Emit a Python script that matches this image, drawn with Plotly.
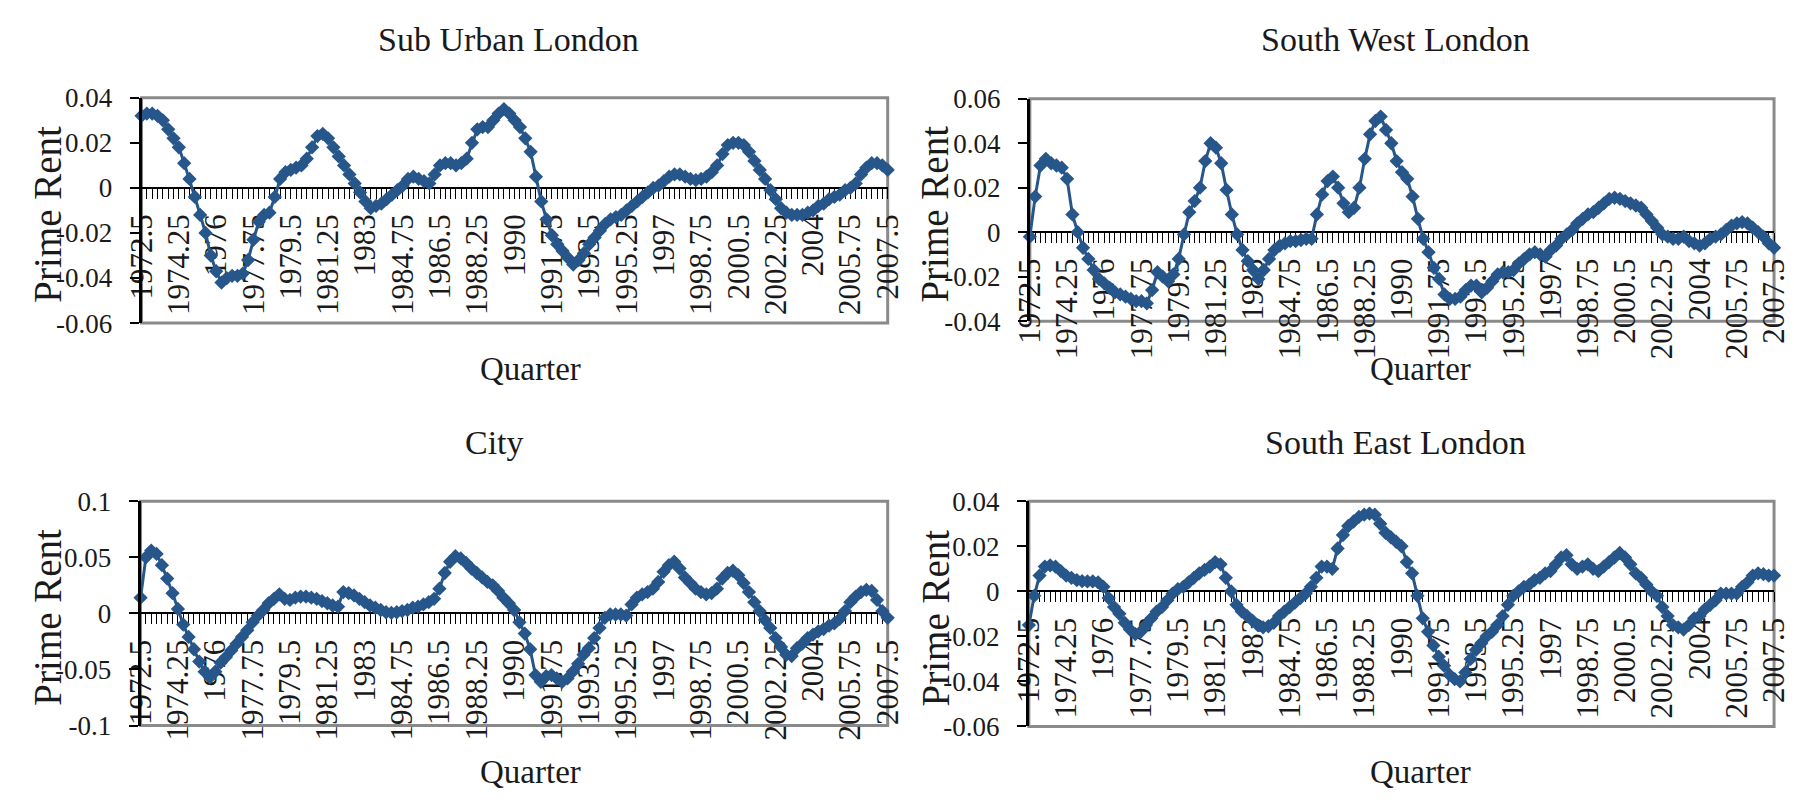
import plotly.graph_objects as go

W, H = 1794, 806

quarters = [1972.5 + 0.25 * k for k in range(141)]
tick_labels = ["1972.5", "1974.25", "1976", "1977.75", "1979.5", "1981.25", "1983",
               "1984.75", "1986.5", "1988.25", "1990", "1991.75", "1993.5", "1995.25",
               "1997", "1998.75", "2000.5", "2002.25", "2004", "2005.75", "2007.5"]

sub_urban = [
    0.032, 0.033, 0.033, 0.032, 0.030, 0.026, 0.022, 0.018, 0.011, 0.004,
    -0.004, -0.012, -0.020, -0.030, -0.037, -0.042, -0.040, -0.039, -0.039, -0.038,
    -0.032, -0.023, -0.015, -0.012, -0.011, -0.004, 0.004, 0.007, 0.008, 0.009,
    0.010, 0.013, 0.018, 0.023, 0.024, 0.022, 0.018, 0.014, 0.010, 0.006,
    0.002, -0.002, -0.006, -0.009, -0.008, -0.007, -0.005, -0.003, -0.001, 0.001,
    0.004, 0.005, 0.004, 0.003, 0.002, 0.006, 0.010, 0.011, 0.011, 0.010,
    0.011, 0.013, 0.020, 0.026, 0.027, 0.027, 0.030, 0.033, 0.035, 0.033,
    0.030, 0.027, 0.022, 0.016, 0.005, -0.006, -0.014, -0.021, -0.025, -0.028,
    -0.031, -0.034, -0.032, -0.029, -0.025, -0.022, -0.019, -0.016, -0.014, -0.013,
    -0.012, -0.010, -0.008, -0.006, -0.004, -0.002, 0.000, 0.001, 0.003, 0.005,
    0.006, 0.006, 0.005, 0.004, 0.0035, 0.004, 0.005, 0.007, 0.010, 0.015,
    0.019, 0.020, 0.020, 0.019, 0.016, 0.012, 0.008, 0.004, -0.001, -0.005,
    -0.009, -0.011, -0.012, -0.012, -0.012, -0.011, -0.010, -0.008, -0.007, -0.005,
    -0.004, -0.003, -0.001, 0.000, 0.002, 0.006, 0.009, 0.011, 0.011, 0.010,
    0.008]

south_west = [
    -0.002, 0.016, 0.030, 0.033, 0.031, 0.030, 0.029, 0.024, 0.008, 0.000,
    -0.007, -0.012, -0.017, -0.021, -0.023, -0.025, -0.027, -0.028, -0.029, -0.030,
    -0.031, -0.031, -0.032, -0.026, -0.018, -0.020, -0.022, -0.019, -0.012, -0.001,
    0.009, 0.014, 0.020, 0.032, 0.040, 0.038, 0.031, 0.019, 0.008, -0.001,
    -0.008, -0.013, -0.017, -0.021, -0.017, -0.012, -0.008, -0.006, -0.005, -0.004,
    -0.004, -0.0035, -0.003, -0.003, 0.008, 0.017, 0.023, 0.025, 0.020, 0.013,
    0.009, 0.011, 0.020, 0.033, 0.044, 0.050, 0.052, 0.046, 0.040, 0.032,
    0.027, 0.024, 0.016, 0.006, -0.003, -0.009, -0.016, -0.021, -0.028, -0.030,
    -0.030, -0.029, -0.026, -0.024, -0.024, -0.027, -0.025, -0.022, -0.019, -0.018,
    -0.018, -0.017, -0.014, -0.012, -0.010, -0.009, -0.010, -0.011, -0.008, -0.006,
    -0.003, -0.001, 0.001, 0.004, 0.006, 0.008, 0.009, 0.011, 0.013, 0.015,
    0.0155, 0.015, 0.014, 0.013, 0.012, 0.011, 0.008, 0.005, 0.002, -0.001,
    -0.002, -0.003, -0.003, -0.002, -0.004, -0.005, -0.006, -0.005, -0.003, -0.002,
    -0.001, 0.001, 0.003, 0.004, 0.0045, 0.004, 0.002, 0.000, -0.002, -0.005,
    -0.007]

city = [
    0.014, 0.050, 0.056, 0.053, 0.043, 0.031, 0.018, 0.004, -0.010, -0.021,
    -0.032, -0.043, -0.052, -0.057, -0.052, -0.044, -0.039, -0.033, -0.027, -0.021,
    -0.015, -0.008, -0.002, 0.003, 0.009, 0.013, 0.017, 0.013, 0.012, 0.014,
    0.015, 0.015, 0.014, 0.013, 0.011, 0.009, 0.007, 0.006, 0.019, 0.018,
    0.016, 0.013, 0.010, 0.007, 0.005, 0.003, 0.001, 0.0005, 0.001, 0.002,
    0.003, 0.005, 0.006, 0.008, 0.010, 0.013, 0.022, 0.036, 0.046, 0.051,
    0.049, 0.045, 0.040, 0.036, 0.032, 0.028, 0.025, 0.020, 0.014, 0.009,
    0.003, -0.008, -0.018, -0.032, -0.055, -0.061, -0.056, -0.055, -0.058, -0.061,
    -0.058, -0.052, -0.045, -0.037, -0.031, -0.022, -0.013, -0.004, -0.001, -0.001,
    -0.001, -0.002, 0.008, 0.014, 0.017, 0.019, 0.022, 0.028, 0.037, 0.043,
    0.046, 0.040, 0.032, 0.027, 0.022, 0.019, 0.017, 0.018, 0.022, 0.031,
    0.036, 0.038, 0.034, 0.027, 0.019, 0.010, 0.002, -0.006, -0.013, -0.022,
    -0.030, -0.037, -0.038, -0.031, -0.027, -0.022, -0.019, -0.016, -0.014, -0.011,
    -0.009, -0.005, 0.002, 0.010, 0.015, 0.019, 0.021, 0.020, 0.012, 0.002,
    -0.004]

south_east = [
    -0.015, -0.002, 0.007, 0.011, 0.0115, 0.011, 0.009, 0.007, 0.006, 0.005,
    0.0045, 0.0044, 0.0044, 0.004, 0.002, -0.003, -0.007, -0.010, -0.014, -0.017,
    -0.019, -0.018, -0.015, -0.012, -0.009, -0.007, -0.004, -0.001, 0.001, 0.002,
    0.004, 0.006, 0.008, 0.0095, 0.011, 0.013, 0.012, 0.006, 0.000, -0.006,
    -0.009, -0.011, -0.013, -0.015, -0.016, -0.0155, -0.014, -0.011, -0.009, -0.007,
    -0.005, -0.003, -0.001, 0.002, 0.006, 0.011, 0.011, 0.010, 0.019, 0.025,
    0.029, 0.031, 0.033, 0.034, 0.0345, 0.034, 0.030, 0.026, 0.024, 0.022,
    0.020, 0.013, 0.008, -0.002, -0.012, -0.018, -0.024, -0.029, -0.033, -0.037,
    -0.039, -0.040, -0.036, -0.030, -0.026, -0.023, -0.020, -0.018, -0.015, -0.011,
    -0.006, -0.002, 0.000, 0.002, 0.003, 0.005, 0.006, 0.008, 0.009, 0.012,
    0.015, 0.016, 0.012, 0.010, 0.011, 0.012, 0.010, 0.009, 0.011, 0.013,
    0.015, 0.017, 0.015, 0.012, 0.008, 0.006, 0.003, 0.000, -0.002, -0.007,
    -0.011, -0.015, -0.016, -0.017, -0.015, -0.012, -0.011, -0.008, -0.006, -0.004,
    -0.001, -0.001, -0.001, -0.001, 0.002, 0.004, 0.007, 0.008, 0.0076, 0.007,
    0.007]

titles = ["Sub Urban London", "South West London", "City", "South East London"]
series = [sub_urban, south_west, city, south_east]
y_ticks = [
    [0.04, 0.02, 0, -0.02, -0.04, -0.06],
    [0.06, 0.04, 0.02, 0, -0.02, -0.04],
    [0.1, 0.05, 0, -0.05, -0.1],
    [0.04, 0.02, 0, -0.02, -0.04, -0.06],
]
y_tick_text = [
    ["0.04", "0.02", "0", "-0.02", "-0.04", "-0.06"],
    ["0.06", "0.04", "0.02", "0", "-0.02", "-0.04"],
    ["0.1", "0.05", "0", "-0.05", "-0.1"],
    ["0.04", "0.02", "0", "-0.02", "-0.04", "-0.06"],
]
x_title = "Quarter"
y_title = "Prime Rent"

for s in series:
    assert len(s) == len(quarters)

# layout geometry in pixels (left, right, top, bottom)
boxes = [(126, 887, 86, 320), (1032, 1791, 87, 318), (125, 887, 505, 738), (1031, 1791, 505, 739)]
title_pos = [(500, 25), (1405, 25), (486, 444), (1405, 444)]
xtitle_pos = [(523, 368), (1430, 368), (523, 786), (1430, 786)]
ytitle_x = [30, 935, 30, 936]

FONT = "Liberation Serif, Times New Roman, serif"
TXT = "#1a1a1a"
LINE_COLOR = "#27568A"

fig = go.Figure()
layout = dict(width=W, height=H, margin=dict(l=0, r=0, t=0, b=0), autosize=False,
              paper_bgcolor="white", plot_bgcolor="white", showlegend=False,
              font=dict(family=FONT, color=TXT))
annotations = []
shapes = []

for k in range(4):
    l, r, t, b = boxes[k]
    xd = [l / W, r / W]
    yd = [1 - b / H, 1 - t / H]
    ymin, ymax = min(y_ticks[k]), max(y_ticks[k])
    zero_pos = yd[0] + (0 - ymin) / (ymax - ymin) * (yd[1] - yd[0])
    xn = "xaxis" if k == 0 else f"xaxis{k+1}"
    yn = "yaxis" if k == 0 else f"yaxis{k+1}"
    xr = "x" if k == 0 else f"x{k+1}"
    yr = "y" if k == 0 else f"y{k+1}"

    fig.add_trace(go.Scatter(
        x=quarters, y=series[k], xaxis=xr, yaxis=yr, mode="lines+markers",
        line=dict(color=LINE_COLOR, width=3),
        marker=dict(symbol="diamond", size=11, color=LINE_COLOR),
        cliponaxis=False, hoverinfo="x+y"))

    layout[xn] = dict(
        domain=xd, anchor="free", position=zero_pos, range=[quarters[0], quarters[-1]],
        showline=True, linecolor="black", linewidth=2, showgrid=False, zeroline=False,
        tickmode="array", tickvals=[float(v) for v in tick_labels], ticktext=tick_labels,
        ticks="outside", ticklen=10, tickwidth=1.3, tickcolor="black",
        minor=dict(tickmode="array", tickvals=quarters, ticks="outside", ticklen=10,
                   tickwidth=1.3, tickcolor="black"),
        tickangle=-90, ticklabelstandoff=3,
        tickfont=dict(family=FONT, size=31, color=TXT), layer="below traces")
    layout[yn] = dict(
        domain=yd, anchor=xr, range=[ymin, ymax], showline=True, linecolor="black",
        linewidth=3, showgrid=False, zeroline=False, tickmode="array",
        tickvals=y_ticks[k], ticktext=y_tick_text[k], ticks="outside", ticklen=9,
        tickwidth=2, tickcolor="black", ticklabelstandoff=12,
        tickfont=dict(family=FONT, size=27, color=TXT))

    shapes.append(dict(type="rect", xref="paper", yref="paper", x0=xd[0], x1=xd[1],
                       y0=yd[0], y1=yd[1], line=dict(color="#8a8a8a", width=3),
                       layer="below"))

    annotations.append(dict(text=titles[k], x=title_pos[k][0] / W, y=1 - title_pos[k][1] / H,
                            xref="paper", yref="paper", showarrow=False, xanchor="center",
                            yanchor="middle", font=dict(family=FONT, size=34, color=TXT)))
    annotations.append(dict(text=x_title, x=xtitle_pos[k][0] / W, y=1 - xtitle_pos[k][1] / H,
                            xref="paper", yref="paper", showarrow=False, xanchor="center",
                            yanchor="middle", font=dict(family=FONT, size=33, color=TXT)))
    annotations.append(dict(text=y_title, x=ytitle_x[k] / W, y=1 - ((t + b) / 2 + 4) / H,
                            xref="paper", yref="paper", showarrow=False, xanchor="center",
                            yanchor="middle", textangle=-90,
                            font=dict(family=FONT, size=39, color=TXT)))

layout["annotations"] = annotations
layout["shapes"] = shapes
fig.update_layout(**layout)
fig.write_html("out.html")
